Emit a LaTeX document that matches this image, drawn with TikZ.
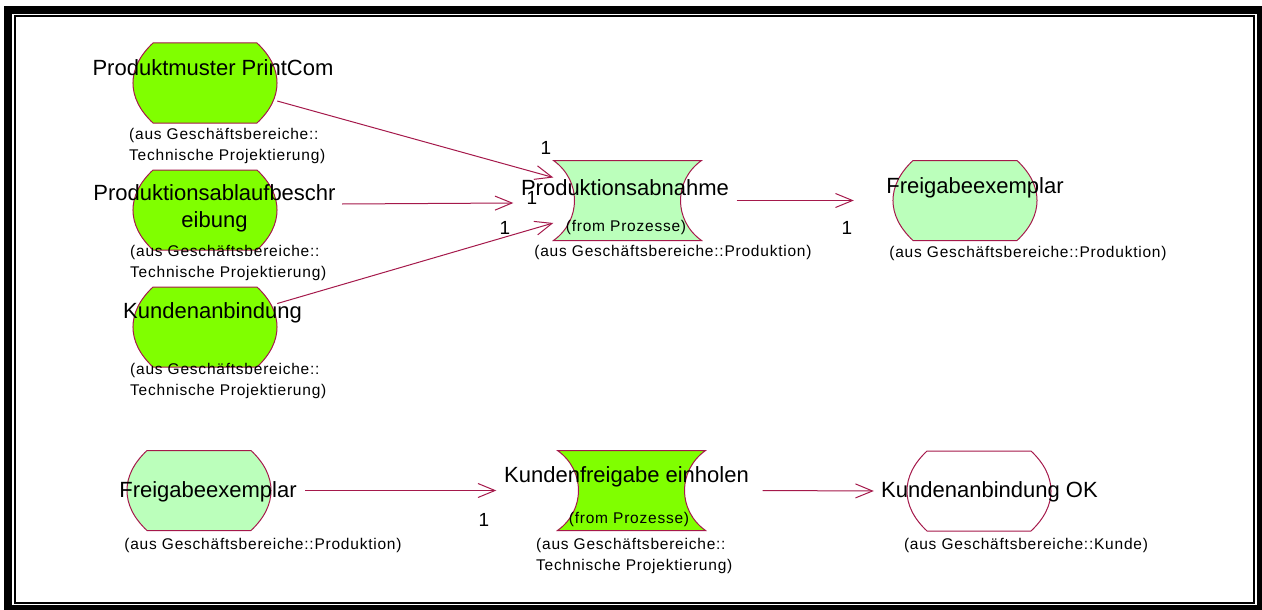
\documentclass[tikz,border=0pt]{standalone}
\usepackage{fontspec}
\setmainfont{Liberation Sans}
\newfontfamily\notefont{Liberation Sans}[LetterSpace=5]
\usetikzlibrary{arrows.meta}
\definecolor{edge}{RGB}{165,25,75}
\definecolor{vivid}{RGB}{128,255,0}
\definecolor{pale}{RGB}{187,255,187}

\begin{document}
\begin{tikzpicture}[x=1pt,y=-1pt,
  title/.style={inner sep=0pt, font=\fontsize{22}{27}\selectfont, align=center},
  note/.style={inner sep=0pt, font=\notefont\fontsize{15.5}{21}\selectfont, align=left},
  mult/.style={inner sep=0pt, font=\fontsize{19}{22}\selectfont},
  flow/.style={draw=edge, line width=1pt, -{Straight Barb[length=17pt,width=14pt,line width=1pt]}},
  slot/.style={inner sep=0pt, minimum width=144pt, minimum height=80pt},
  wideslot/.style={inner sep=0pt, minimum width=148pt, minimum height=80pt},
  pics/entity/.style={code={
    \path[draw=edge, line width=1pt, fill=#1]
      (-52,-40) -- (52,-40) .. controls (78.7,-15) and (78.7,15) .. (52,40)
      -- (-52,40) .. controls (-78.7,15) and (-78.7,-15) .. (-52,-40) -- cycle;}},
  pics/process/.style={code={
    \path[draw=edge, line width=1pt, fill=#1]
      (-74,-40) -- (74,-40) .. controls (46,-20) and (46,20) .. (74,40)
      -- (-74,40) .. controls (-46,20) and (-46,-20) .. (-74,-40) -- cycle;}},
]
\useasboundingbox (0,0) rectangle (1262,610);

% double frame
\fill[black] (4,6) rectangle (1262,610);
\fill[white] (12,14) rectangle (1257,605);
\draw[line width=2pt] (15,16) rectangle (1254,603);

% shape outlines
\node[slot] (pm) at (205,83) {};
\pic at (pm) {entity=vivid};
\node[slot] (pab) at (205,210) {};
\pic at (pab) {entity=vivid};
\node[slot] (ka) at (205,327) {};
\pic at (ka) {entity=vivid};
\node[wideslot] (pa) at (627.5,200.5) {};
\pic at (pa) {process=pale};
\node[slot] (fe) at (965,200.5) {};
\pic at (fe) {entity=pale};
\node[slot] (fe2) at (199,490.5) {};
\pic at (fe2) {entity=pale};
\node[wideslot] (kf) at (631.5,490.5) {};
\pic at (kf) {process=vivid};
\node[slot] (ok) at (979,491) {};
\pic at (ok) {entity=white};

% connectors
\draw[flow] (pm.-14) -- ([yshift=23pt]pa.west);
\draw[flow] ([shift={(65pt,6pt)}]pab.east) -- ([shift={(-40pt,-2.5pt)}]pa.west);
\draw[flow] (ka.18) -- ([yshift=-22.5pt]pa.west);
\draw[flow] ([xshift=35pt]pa.east) -- ([xshift=-39pt]fe.west);
\draw[flow] ([xshift=34pt]fe2.east) -- ([xshift=-61pt]kf.west);
\draw[flow] ([xshift=57pt]kf.east) -- ([xshift=-33pt]ok.west);

% names
\node[title] (pm-t) at (213,68) {Produktmuster PrintCom};
\node[title] (pab-t) at (214.5,208.5) {Produktionsablaufbeschr\\eibung};
\node[title] (ka-t) at (212.5,313) {Kundenanbindung};
\node[title] (pa-t) at (625,188) {Produktionsabnahme};
\node[title] (fe-t) at (975,188) {Freigabeexemplar};
\node[title] (fe2-t) at (208,492) {Freigabeexemplar};
\node[title] (kf-t) at (626.5,477) {Kundenfreigabe einholen};
\node[title] (ok-t) at (989.5,492) {Kundenanbindung OK};

% origin notes
\node[note, anchor=west] (pm-n) at (129,145.5) {(aus Geschäftsbereiche::\\Technische Projektierung)};
\node[note, anchor=west] (pab-n) at (130,263) {(aus Geschäftsbereiche::\\Technische Projektierung)};
\node[note, anchor=west] (ka-n) at (130,380.5) {(aus Geschäftsbereiche::\\Technische Projektierung)};
\node[note] (pa-f) at (626,227) {(from Prozesse)};
\node[note] (pa-n) at (673,252) {(aus Geschäftsbereiche::Produktion)};
\node[note] (fe-n) at (1028,253) {(aus Geschäftsbereiche::Produktion)};
\node[note] (fe2-n) at (263,545) {(aus Geschäftsbereiche::Produktion)};
\node[note] (kf-f) at (629,519) {(from Prozesse)};
\node[note, anchor=west] (kf-n) at (536,555.5) {(aus Geschäftsbereiche::\\Technische Projektierung)};
\node[note] (ok-n) at (1026,545) {(aus Geschäftsbereiche::Kunde)};

% multiplicities
\node[mult] (m1) at (546,148) {1};
\node[mult] (m2) at (532,198) {1};
\node[mult] (m3) at (505,228) {1};
\node[mult] (m4) at (847,228) {1};
\node[mult] (m5) at (484,520) {1};
\end{tikzpicture}
\end{document}
